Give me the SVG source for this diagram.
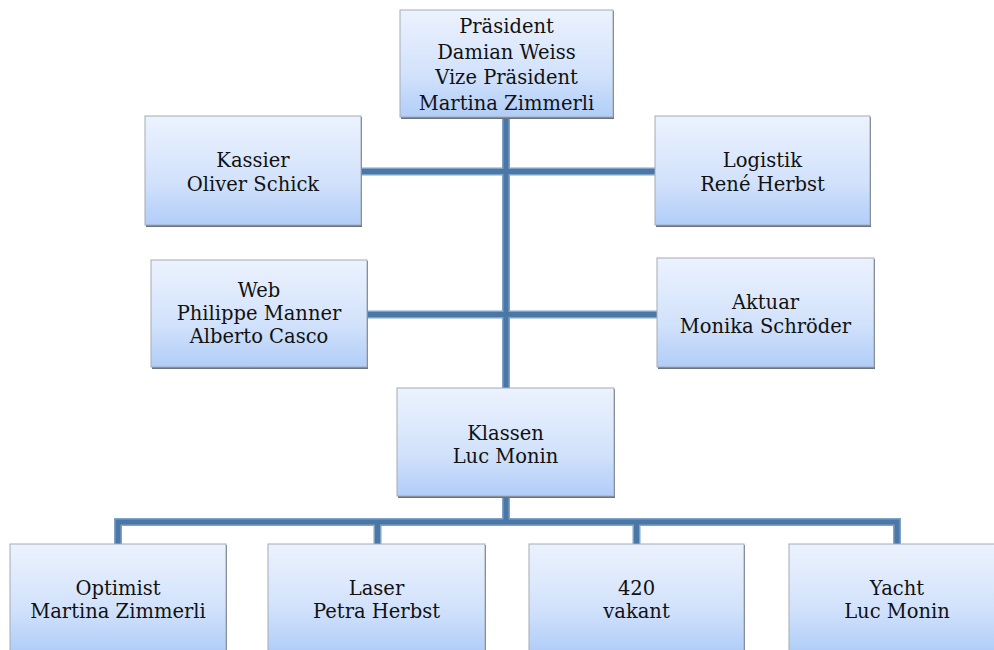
<svg xmlns="http://www.w3.org/2000/svg" width="994" height="650" viewBox="0 0 994 650">
<defs>
<linearGradient id="g" x1="0" y1="0" x2="0" y2="1">
<stop offset="0" stop-color="#ecf2fe"/>
<stop offset="0.6" stop-color="#d2e2fb"/>
<stop offset="1" stop-color="#b1cdf8"/>
</linearGradient>
</defs>
<style>
.box{fill:url(#g);stroke:#a3abb6;stroke-width:1}
.sh{fill:#6b737d}
.t{font-family:"DejaVu Serif","Liberation Serif",serif;font-size:19.5px;fill:#111;text-anchor:middle}
.co{fill:none;stroke:#7fa2c8;stroke-width:8;stroke-linejoin:miter}
.ci{fill:none;stroke:#4a77a5;stroke-width:5;stroke-linejoin:miter}
</style>
<rect width="994" height="650" fill="#fff"/>
<g id="connectors">
<path class="co" d="M506 117V388M361 171.5H655M368 314.5H658M506 496V522M118 544V522H897V544M377.5 522V544M636.5 522V544"/>
<path class="ci" d="M506 117V388M361 171.5H655M368 314.5H658M506 496V522M118 544V522H897V544M377.5 522V544M636.5 522V544"/>
</g>
<g id="praesident">
<rect class="sh" x="401" y="11" width="213" height="108"/>
<rect class="box" x="400" y="10" width="213" height="107"/>
<text class="t" x="506.5" y="33">Präsident</text>
<text class="t" x="506.5" y="58.5">Damian Weiss</text>
<text class="t" x="506.5" y="84">Vize Präsident</text>
<text class="t" x="506.5" y="109.5">Martina Zimmerli</text>
</g>
<g id="kassier">
<rect class="sh" x="146" y="117" width="216" height="110"/>
<rect class="box" x="145" y="116" width="216" height="109"/>
<text class="t" x="253" y="167">Kassier</text>
<text class="t" x="253" y="191">Oliver Schick</text>
</g>
<g id="logistik">
<rect class="sh" x="656" y="117" width="215" height="110"/>
<rect class="box" x="655" y="116" width="215" height="109"/>
<text class="t" x="762.5" y="167">Logistik</text>
<text class="t" x="762.5" y="191">René Herbst</text>
</g>
<g id="web">
<rect class="sh" x="152" y="261" width="216" height="108"/>
<rect class="box" x="151" y="260" width="216" height="107"/>
<text class="t" x="259" y="297">Web</text>
<text class="t" x="259" y="320">Philippe Manner</text>
<text class="t" x="259" y="343">Alberto Casco</text>
</g>
<g id="aktuar">
<rect class="sh" x="658" y="259" width="217" height="110"/>
<rect class="box" x="657" y="258" width="217" height="109"/>
<text class="t" x="765.5" y="309">Aktuar</text>
<text class="t" x="765.5" y="333">Monika Schröder</text>
</g>
<g id="klassen">
<rect class="sh" x="398" y="389" width="217" height="109"/>
<rect class="box" x="397" y="388" width="217" height="108"/>
<text class="t" x="505.5" y="440">Klassen</text>
<text class="t" x="505.5" y="463">Luc Monin</text>
</g>
<g id="optimist">
<rect class="sh" x="11" y="545" width="216" height="108"/>
<rect class="box" x="10" y="544" width="216" height="107"/>
<text class="t" x="118" y="595">Optimist</text>
<text class="t" x="118" y="618">Martina Zimmerli</text>
</g>
<g id="laser">
<rect class="sh" x="269" y="545" width="217" height="108"/>
<rect class="box" x="268" y="544" width="217" height="107"/>
<text class="t" x="376.5" y="595">Laser</text>
<text class="t" x="376.5" y="618">Petra Herbst</text>
</g>
<g id="b420">
<rect class="sh" x="530" y="545" width="215" height="108"/>
<rect class="box" x="529" y="544" width="215" height="107"/>
<text class="t" x="636.5" y="595">420</text>
<text class="t" x="636.5" y="618">vakant</text>
</g>
<g id="yacht">
<rect class="sh" x="790" y="545" width="216" height="108"/>
<rect class="box" x="789" y="544" width="216" height="107"/>
<text class="t" x="897" y="595">Yacht</text>
<text class="t" x="897" y="618">Luc Monin</text>
</g>
</svg>
